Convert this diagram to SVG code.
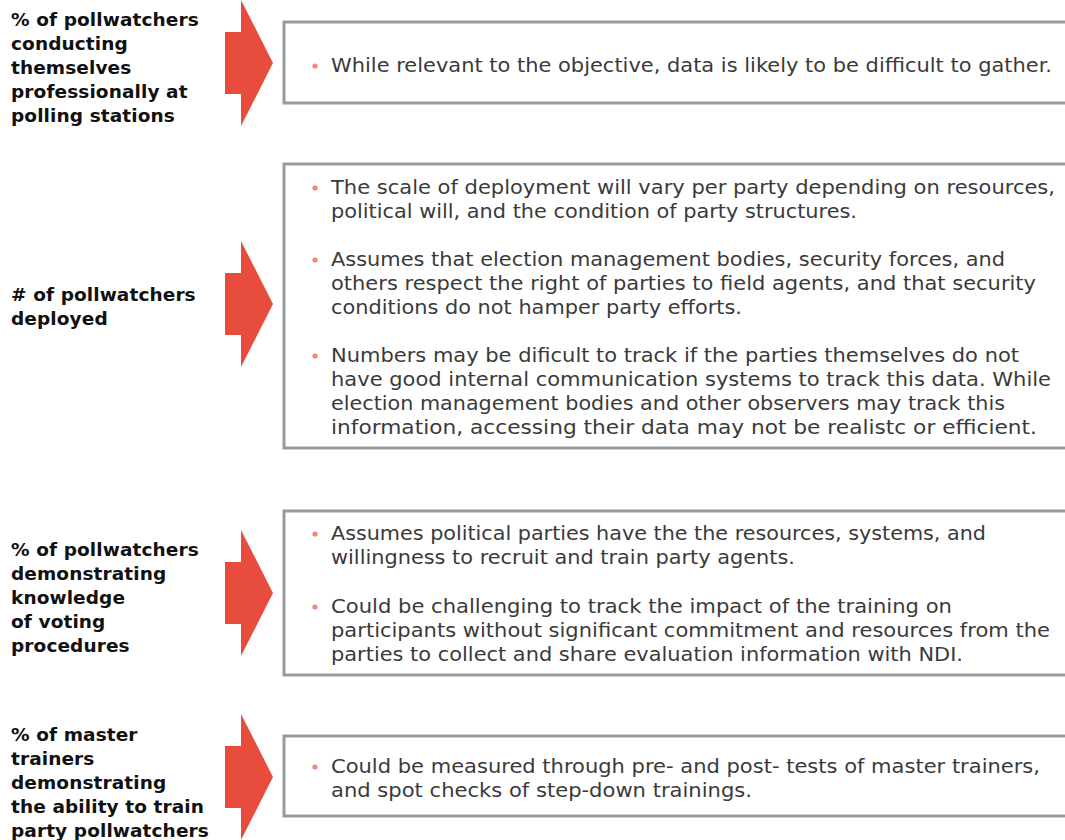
<svg xmlns="http://www.w3.org/2000/svg" width="1065" height="840" viewBox="0 0 1065 840">
<style>
.lbl{font-family:"DejaVu Sans","Liberation Sans",sans-serif;font-weight:bold;font-size:18.5px;fill:#111;letter-spacing:0.1px}
.txt{font-family:"DejaVu Sans","Liberation Sans",sans-serif;font-size:19.5px;fill:#3a3a3a}
.box{fill:#fff;stroke:#9a9a9e;stroke-width:3}
.arr{fill:#e84c3d}
.dot{fill:#f4877a}
</style>
<defs>
<path id="arrow" class="arr" d="M225,-31 H241 V-63 L273,0 L241,63 V31 H225 Z"/>
</defs>
<rect width="1065" height="840" fill="#fff"/>

<g id="connectors">
<use href="#arrow" transform="translate(0,63)"/>
<use href="#arrow" transform="translate(0,304)"/>
<use href="#arrow" transform="translate(0,593)"/>
<use href="#arrow" transform="translate(0,777)"/>
</g>

<g id="label1">
<text class="lbl" x="11" y="26">% of pollwatchers</text>
<text class="lbl" x="11" y="50">conducting</text>
<text class="lbl" x="11" y="74">themselves</text>
<text class="lbl" x="11" y="98">professionally at</text>
<text class="lbl" x="11" y="122">polling stations</text>
</g>
<g id="box1">
<rect class="box" x="284" y="22" width="800" height="81"/>
<circle class="dot" cx="315" cy="66" r="2.6"/>
<text class="txt" x="331" y="72" textLength="721" lengthAdjust="spacingAndGlyphs">While relevant to the objective, data is likely to be difficult to gather.</text>
</g>

<g id="label2">
<text class="lbl" x="11" y="301"># of pollwatchers</text>
<text class="lbl" x="11" y="325">deployed</text>
</g>
<g id="box2">
<rect class="box" x="284" y="164" width="800" height="284"/>
<circle class="dot" cx="315" cy="188" r="2.6"/>
<text class="txt" x="331" y="194" textLength="724" lengthAdjust="spacingAndGlyphs">The scale of deployment will vary per party depending on resources,</text>
<text class="txt" x="331" y="218" textLength="526" lengthAdjust="spacingAndGlyphs">political will, and the condition of party structures.</text>
<circle class="dot" cx="315" cy="260" r="2.6"/>
<text class="txt" x="331" y="266" textLength="674" lengthAdjust="spacingAndGlyphs">Assumes that election management bodies, security forces, and</text>
<text class="txt" x="331" y="290" textLength="705" lengthAdjust="spacingAndGlyphs">others respect the right of parties to field agents, and that security</text>
<text class="txt" x="331" y="314" textLength="411" lengthAdjust="spacingAndGlyphs">conditions do not hamper party efforts.</text>
<circle class="dot" cx="315" cy="356" r="2.6"/>
<text class="txt" x="331" y="362" textLength="688" lengthAdjust="spacingAndGlyphs">Numbers may be dificult to track if the parties themselves do not</text>
<text class="txt" x="331" y="386" textLength="720" lengthAdjust="spacingAndGlyphs">have good internal communication systems to track this data. While</text>
<text class="txt" x="331" y="410" textLength="674" lengthAdjust="spacingAndGlyphs">election management bodies and other observers may track this</text>
<text class="txt" x="331" y="434" textLength="706" lengthAdjust="spacingAndGlyphs">information, accessing their data may not be realistc or efficient.</text>
</g>

<g id="label3">
<text class="lbl" x="11" y="556">% of pollwatchers</text>
<text class="lbl" x="11" y="580">demonstrating</text>
<text class="lbl" x="11" y="604">knowledge</text>
<text class="lbl" x="11" y="628">of voting</text>
<text class="lbl" x="11" y="652">procedures</text>
</g>
<g id="box3">
<rect class="box" x="284" y="511" width="800" height="164"/>
<circle class="dot" cx="315" cy="534" r="2.6"/>
<text class="txt" x="331" y="540" textLength="655" lengthAdjust="spacingAndGlyphs">Assumes political parties have the the resources, systems, and</text>
<text class="txt" x="331" y="564" textLength="464" lengthAdjust="spacingAndGlyphs">willingness to recruit and train party agents.</text>
<circle class="dot" cx="315" cy="607" r="2.6"/>
<text class="txt" x="331" y="613" textLength="621" lengthAdjust="spacingAndGlyphs">Could be challenging to track the impact of the training on</text>
<text class="txt" x="331" y="637" textLength="719" lengthAdjust="spacingAndGlyphs">participants without significant commitment and resources from the</text>
<text class="txt" x="331" y="661" textLength="632" lengthAdjust="spacingAndGlyphs">parties to collect and share evaluation information with NDI.</text>
</g>

<g id="label4">
<text class="lbl" x="11" y="741">% of master</text>
<text class="lbl" x="11" y="765">trainers</text>
<text class="lbl" x="11" y="789">demonstrating</text>
<text class="lbl" x="11" y="813">the ability to train</text>
<text class="lbl" x="11" y="837">party pollwatchers</text>
</g>
<g id="box4">
<rect class="box" x="284" y="736" width="800" height="80"/>
<circle class="dot" cx="315" cy="767" r="2.6"/>
<text class="txt" x="331" y="773" textLength="709" lengthAdjust="spacingAndGlyphs">Could be measured through pre- and post- tests of master trainers,</text>
<text class="txt" x="331" y="797" textLength="421" lengthAdjust="spacingAndGlyphs">and spot checks of step-down trainings.</text>
</g>
</svg>
